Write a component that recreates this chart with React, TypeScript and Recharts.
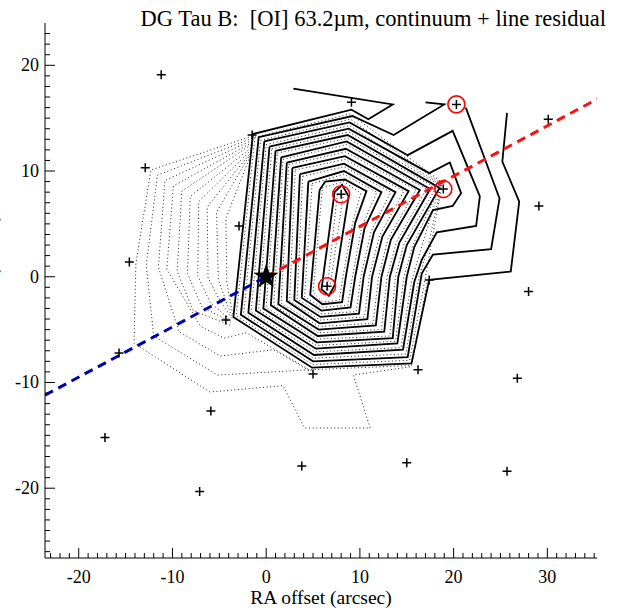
import { ComposedChart, Line, Scatter, XAxis, YAxis } from 'recharts';

type P = [number, number];

// PACS spaxel centres (arcsec offsets)
const spaxels: P[] = [
  [-11.2, 19.1], [9.1, 16.5], [20.3, 16.3], [30.1, 14.9], [-1.5, 13.4],
  [-12.9, 10.3], [8.0, 7.8], [18.9, 8.3], [29.1, 6.7], [-2.9, 4.8],
  [-14.6, 1.4], [6.5, -0.9], [17.4, -0.3], [28.0, -1.4], [-15.7, -7.2],
  [-4.3, -4.1], [5.0, -9.2], [16.2, -8.8], [26.8, -9.6], [-17.2, -15.2],
  [-5.9, -12.7], [3.8, -17.9], [15.0, -17.6], [25.7, -18.4], [-7.1, -20.3],
];
const circled: P[] = [[20.3, 16.3], [8.0, 7.8], [18.9, 8.3], [6.5, -0.9]];
const source: P[] = [[0, 0]];
const jetRed: P[] = [[0, 0], [35.3, 16.8]];
const jetBlue: P[] = [[-23.6, -11.2], [0, 0]];

// continuum + line contours (solid); first two are open towards NE
const solid1: P[] = [[2.9, 17.8], [13.5, 16.3], [10.9, 14.9], [9.1, 15.8], [-1.4, 13.5], [-3.5, -3.8], [4.9, -8.6], [15.5, -8.2], [17.4, -0.3], [26.1, 0.5], [27.0, 7.1], [25.2, 10.9], [25.7, 15.5]];
const solid2: P[] = [[17.0, 16.5], [19.0, 16.3], [13.6, 13.4], [9.2, 15.2], [-0.8, 13.2], [-2.7, -3.6], [5.0, -8.0], [15.1, -7.6], [16.6, 0.3], [17.8, 2.1], [24.0, 2.6], [24.9, 7.4], [21.3, 16.0]];
const solid3: P[] = [[-0.2, 12.8], [8.9, 14.6], [15.1, 11.5], [19.9, 13.8], [22.8, 7.6], [22.4, 4.8], [18.2, 4.2], [16.6, 1.6], [15.8, -0.5], [14.6, -6.9], [5.1, -7.4], [-1.9, -3.4]];
const solid4: P[] = [[0.35, 12.3], [8.8, 14.0], [17.4, 9.8], [19.6, 10.8], [20.8, 7.9], [19.9, 6.7], [17.8, 6.3], [15.8, 2.8], [15.0, 0.0], [14.0, -6.3], [5.3, -6.8], [-1.1, -3.2]];
const solid5: P[] = [[1.0, 11.9], [8.7, 13.4], [18.5, 8.4], [15.0, 3.0], [14.1, 0.0], [13.5, -5.8], [5.4, -6.2], [-0.3, -3.0]];
const solid6: P[] = [[1.6, 11.3], [8.6, 12.8], [17.5, 8.3], [14.2, 3.2], [13.2, 0.0], [12.6, -5.2], [5.5, -5.6], [0.5, -2.7]];
const solid7: P[] = [[2.2, 10.8], [8.5, 12.1], [16.4, 8.2], [13.3, 3.5], [12.3, 0.0], [11.7, -4.6], [5.6, -5.0], [1.3, -2.6]];
const solid8: P[] = [[2.8, 10.3], [8.4, 11.4], [15.2, 8.1], [12.4, 3.8], [11.3, 0.0], [10.8, -4.0], [5.7, -4.4], [2.2, -2.3]];
const solid9: P[] = [[3.6, 9.7], [8.3, 10.7], [13.8, 8.0], [11.5, 4.2], [10.4, 0.0], [9.9, -3.5], [5.8, -3.8], [3.0, -2.2]];
const solid10: P[] = [[4.5, 9.0], [8.3, 10.0], [12.3, 8.0], [10.5, 4.6], [9.5, 0.0], [9.0, -2.9], [5.9, -3.2], [3.8, -2.0]];
const solid11: P[] = [[5.7, 8.2], [6.3, 9.0], [8.4, 9.2], [10.7, 8.1], [9.5, 5.1], [8.5, 0.0], [8.1, -2.4], [6.0, -2.6], [4.7, -1.7]];
const solid12: P[] = [[7.3, 8.0], [8.1, 8.7], [8.8, 7.6], [7.3, -0.8], [6.7, -1.8], [5.9, -1.2]];

// continuum contours (dotted) inside the core
const dot1: P[] = [[-1.2, 13.2], [9.0, 15.4], [18.8, 8.9], [17.6, 3.0], [17.0, 0.0], [15.3, -7.9], [4.95, -8.3], [-3.2, -3.7]];
const dot2: P[] = [[-0.6, 12.9], [9.0, 14.9], [18.7, 8.8], [17.2, 2.5], [16.3, 0.0], [14.9, -7.3], [5.05, -7.7], [-2.4, -3.5]];
const dot3: P[] = [[0.0, 12.5], [8.9, 14.3], [18.6, 8.7], [16.4, 2.3], [15.5, -0.5], [14.4, -6.7], [5.2, -7.1], [-1.6, -3.3]];
const dot4: P[] = [[0.6, 12.1], [8.8, 13.7], [18.6, 8.6], [15.6, 2.9], [14.7, 0.0], [13.8, -6.1], [5.35, -6.5], [-0.8, -3.1]];
const dot5: P[] = [[1.2, 11.7], [8.7, 13.1], [18.1, 8.4], [14.7, 3.1], [13.8, 0.0], [13.2, -5.6], [5.45, -5.9], [0.0, -2.9]];
const dot6: P[] = [[1.8, 11.1], [8.6, 12.5], [17.1, 8.3], [13.9, 3.3], [12.9, 0.0], [12.3, -5.0], [5.55, -5.3], [0.8, -2.7]];
const dot7: P[] = [[2.4, 10.6], [8.5, 11.8], [16.0, 8.2], [13.0, 3.6], [12.0, 0.0], [11.4, -4.4], [5.65, -4.7], [1.6, -2.5]];
const dot8: P[] = [[3.1, 10.1], [8.4, 11.1], [14.7, 8.1], [12.1, 3.9], [11.0, 0.0], [10.5, -3.8], [5.75, -4.1], [2.5, -2.3]];
const dot9: P[] = [[3.9, 9.5], [8.3, 10.4], [13.3, 8.0], [11.2, 4.3], [10.1, 0.0], [9.6, -3.3], [5.85, -3.5], [3.3, -2.1]];
const dot10: P[] = [[4.9, 8.8], [8.3, 9.7], [11.8, 8.0], [10.2, 4.7], [9.2, 0.0], [8.7, -2.7], [5.95, -2.9], [4.1, -1.9]];
const dot11: P[] = [[6.0, 8.4], [8.3, 9.0], [10.1, 7.9], [9.2, 5.0], [8.2, 0.0], [7.8, -2.2], [6.05, -2.4], [5.0, -1.5]];
const dot12: P[] = [[7.6, 7.9], [8.2, 7.6], [6.8, -1.0], [6.5, -1.3]];

// lower continuum levels spreading west and south (dotted, open ends hidden in core)
const low1: P[] = [[-1.5, 13.3], [-12.3, 10.1], [-13.9, 1.3], [-14.1, -6.3], [-6.0, -10.9], [1.8, -10.3], [4.1, -14.3], [11.1, -14.3], [9.3, -9.3], [15.5, -8.5], [17.2, -0.4]];
const low2: P[] = [[-1.5, 13.1], [-11.6, 9.6], [-12.8, 1.1], [-12.0, -5.6], [-5.2, -9.3], [4.6, -8.8], [15.4, -8.4]];
const low3: P[] = [[-1.5, 12.9], [-10.8, 9.1], [-11.5, 0.9], [-9.3, -5.2], [-4.9, -7.5], [0.8, -6.9], [4.8, -9.0]];
const low4: P[] = [[-1.5, 12.7], [-9.9, 8.6], [-10.6, 0.7], [-7.0, -4.7], [-4.5, -5.8], [-2.1, -5.3], [4.8, -8.9]];
const low5: P[] = [[-1.6, 12.5], [-9.0, 8.1], [-9.5, 0.5], [-7.8, -3.2], [-3.8, -4.6]];
const low6: P[] = [[-1.6, 12.2], [-8.1, 7.6], [-8.4, 0.3], [-6.9, -2.8], [-3.8, -4.3]];
const low7: P[] = [[-1.6, 12.0], [-7.2, 7.1], [-7.3, 0.1], [-6.0, -2.4], [-3.8, -4.1]];
const low8: P[] = [[-1.6, 11.8], [-6.3, 6.6], [-6.2, -0.1], [-5.1, -2.0], [-3.7, -3.9]];
const low9: P[] = [[-1.7, 11.6], [-5.3, 6.1], [-5.1, -0.3], [-3.7, -3.7]];
const low10: P[] = [[-1.7, 11.4], [-4.3, 5.5], [-4.2, -0.5], [-3.6, -3.5]];

const solidOpen = [solid1, solid2];
const solidClosed = [solid3, solid4, solid5, solid6, solid7, solid8, solid9, solid10, solid11, solid12];
const dotClosed = [dot1, dot2, dot3, dot4, dot5, dot6, dot7, dot8, dot9, dot10, dot11, dot12];
const dotOpen = [low1, low2, low3, low4, low5, low6, low7, low8, low9, low10];

const xTicks = Array.from({ length: 59 }, (_, i) => i - 23);
const yTicks = Array.from({ length: 50 }, (_, i) => i - 26);

const pts = (a: P[]) => a.map(([x, y]) => ({ x, y }));
const loop = (a: P[]) => pts([...a, a[0]]);

const FONT = "'Liberation Serif', 'Times New Roman', serif";

const XTick = (p: any) => {
  const { x, y, payload } = p;
  const v = payload.value;
  const major = v % 10 === 0;
  return (
    <g>
      <line x1={x} x2={x} y1={y} y2={y - (major ? 10 : 5)} stroke="#000" strokeWidth={1} />
      {major && (
        <text x={x} y={y + 25} textAnchor="middle" fontFamily={FONT} fontSize={18} fill="#000">
          {v}
        </text>
      )}
    </g>
  );
};

const YTick = (p: any) => {
  const { x, y, payload } = p;
  const v = payload.value;
  const major = v % 10 === 0;
  return (
    <g>
      <line x1={x} x2={x + (major ? 10 : 5)} y1={y} y2={y} stroke="#000" strokeWidth={1} />
      {major && (
        <text x={x - 6} y={y + 6} textAnchor="end" fontFamily={FONT} fontSize={18} fill="#000">
          {v}
        </text>
      )}
    </g>
  );
};

const CrossShape = (p: any) => {
  const { cx, cy } = p;
  return <path d={`M${cx - 4.5},${cy}H${cx + 4.5}M${cx},${cy - 4.5}V${cy + 4.5}`} stroke="#000" strokeWidth={1.5} fill="none" />;
};

const RingShape = (p: any) => <circle cx={p.cx} cy={p.cy} r={8.5} fill="none" stroke="#ff0000" strokeWidth={1.6} />;

const StarShape = (p: any) => {
  const { cx, cy } = p;
  const R = 13;
  const r = 5.2;
  const d = Array.from({ length: 10 }, (_, i) => {
    const a = -Math.PI / 2 + (i * Math.PI) / 5;
    const rr = i % 2 === 0 ? R : r;
    return `${cx + rr * Math.cos(a)},${cy + rr * Math.sin(a)}`;
  }).join(' ');
  return <polygon points={d} fill="#000" />;
};

export default function App() {
  return (
    <div style={{ position: 'absolute', left: 0, top: 0, width: 624, height: 610 }}>
      <ComposedChart width={624} height={610} margin={{ top: 23, right: 27, left: 0, bottom: 0 }}>
        <XAxis
          type="number"
          dataKey="x"
          domain={[-23.6, 35.3]}
          allowDataOverflow
          ticks={xTicks}
          interval={0}
          tickSize={0}
          tickMargin={0}
          tickLine={false}
          tick={(p: any) => <XTick {...p} />}
          axisLine={{ stroke: '#000', strokeWidth: 1 }}
          height={52}
        />
        <YAxis
          type="number"
          dataKey="y"
          domain={[-26.6, 24.0]}
          allowDataOverflow
          ticks={yTicks}
          interval={0}
          tickSize={0}
          tickMargin={0}
          tickLine={false}
          tick={(p: any) => <YTick {...p} />}
          axisLine={{ stroke: '#000', strokeWidth: 1 }}
          width={45}
        />
        {dotOpen.map((c, i) => (
          <Line key={'lo' + i} data={pts(c)} dataKey="y" type="linear" stroke="#222" strokeWidth={1} strokeDasharray="1 2.6" dot={false} activeDot={false} isAnimationActive={false} />
        ))}
        {dotClosed.map((c, i) => (
          <Line key={'dc' + i} data={loop(c)} dataKey="y" type="linear" stroke="#222" strokeWidth={1} strokeDasharray="1 2.6" dot={false} activeDot={false} isAnimationActive={false} />
        ))}
        {solidOpen.map((c, i) => (
          <Line key={'so' + i} data={pts(c)} dataKey="y" type="linear" stroke="#000" strokeWidth={1.8} dot={false} activeDot={false} isAnimationActive={false} />
        ))}
        {solidClosed.map((c, i) => (
          <Line key={'sc' + i} data={loop(c)} dataKey="y" type="linear" stroke="#000" strokeWidth={1.8} dot={false} activeDot={false} isAnimationActive={false} />
        ))}
        <Line data={pts(jetBlue)} dataKey="y" type="linear" stroke="#0000a8" strokeWidth={3} strokeDasharray="9 6" dot={false} activeDot={false} isAnimationActive={false} />
        <Line data={pts(jetRed)} dataKey="y" type="linear" stroke="#ff1010" strokeWidth={3} strokeDasharray="9 6" dot={false} activeDot={false} isAnimationActive={false} />
        <Scatter data={pts(spaxels)} shape={(p: any) => <CrossShape {...p} />} isAnimationActive={false} />
        <Scatter data={pts(circled)} shape={(p: any) => <RingShape {...p} />} isAnimationActive={false} />
        <Scatter data={pts(source)} shape={(p: any) => <StarShape {...p} />} isAnimationActive={false} />
      </ComposedChart>
      <svg width={624} height={610} style={{ position: 'absolute', left: 0, top: 0, pointerEvents: 'none' }}>
        <text x={606} y={26} textAnchor="end" fontFamily={FONT} fontSize={22.5} fill="#000" xmlSpace="preserve" style={{ whiteSpace: 'pre' }}>
          DG Tau B:  [OI] 63.2µm, continuum + line residual
        </text>
        <text x={321} y={604} textAnchor="middle" fontFamily={FONT} fontSize={19.5} fill="#000">
          RA offset (arcsec)
        </text>
        <text transform="translate(-3,288) rotate(-90)" textAnchor="middle" fontFamily={FONT} fontSize={19.5} fill="#000">
          Dec offset (arcsec)
        </text>
      </svg>
    </div>
  );
}
